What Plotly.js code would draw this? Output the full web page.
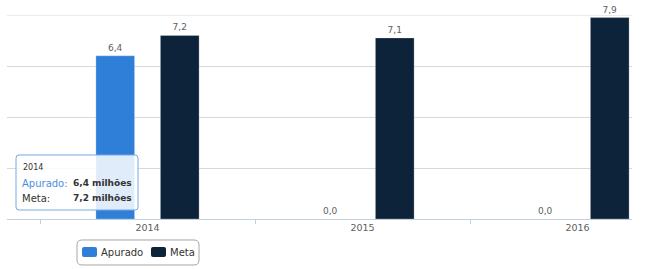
<!DOCTYPE html>
<html>
<head>
<meta charset="utf-8">
<script src="https://cdn.plot.ly/plotly-3.0.1.min.js"></script>
<style>
html,body{margin:0;padding:0;background:#fff;}
#chart{width:650px;height:269px;}
</style>
</head>
<body>
<div id="chart"></div>
<script>
// Data
const categories = ["2014", "2015", "2016"];
const apurado = [6.4, 0.0, 0.0];
const meta = [7.2, 7.1, 7.9];
const seriesNames = ["Apurado", "Meta"];
const seriesColors = ["#2f7ed8", "#0d233a"];
const unitLabel = "milhões";
const yMax = 8;

const fmt = v => v.toFixed(1).replace(".", ",");

// Plot geometry in pixels (for placing overlays: tooltip + legend box)
const L = 7, R = 18, T = 15, B = 50, W = 650, H = 269;
const pw = W - L - R, ph = H - T - B;
const px = x => (x - L) / pw;
const py = y => (H - B - y) / ph;

function roundRect(x0, y0, x1, y1, r) {
  const X = v => px(v).toFixed(5), Y = v => py(v).toFixed(5);
  return "M" + X(x0 + r) + "," + Y(y0) +
    " L" + X(x1 - r) + "," + Y(y0) +
    " Q" + X(x1) + "," + Y(y0) + " " + X(x1) + "," + Y(y0 + r) +
    " L" + X(x1) + "," + Y(y1 - r) +
    " Q" + X(x1) + "," + Y(y1) + " " + X(x1 - r) + "," + Y(y1) +
    " L" + X(x0 + r) + "," + Y(y1) +
    " Q" + X(x0) + "," + Y(y1) + " " + X(x0) + "," + Y(y1 - r) +
    " L" + X(x0) + "," + Y(y0 + r) +
    " Q" + X(x0) + "," + Y(y0) + " " + X(x0 + r) + "," + Y(y0) + " Z";
}

const traceBase = {
  type: "bar",
  texttemplate: "%{y:.1f}",
  textposition: "outside",
  textfont: {family: "DejaVu Sans", size: 9, color: "#606060"},
  cliponaxis: false,
  hoverinfo: "none"
};

const traces = [
  Object.assign({}, traceBase, {x: categories, y: apurado, name: seriesNames[0], marker: {color: seriesColors[0], line: {color: "rgba(255,255,255,0.5)", width: 0.5}}}),
  Object.assign({}, traceBase, {x: categories, y: meta, name: seriesNames[1], marker: {color: seriesColors[1], line: {color: "rgba(255,255,255,0.5)", width: 0.5}}})
];

// Legend (drawn as overlay to match the compact legend box)
const legendItems = [
  {sx: 82, tx: 101},
  {sx: 151, tx: 170}
];

const shapes = [
  // top gridline (Plotly drops gridlines at the very edge of the range)
  {type: "line", xref: "paper", yref: "y", x0: 0, x1: 1, y0: yMax, y1: yMax,
   line: {color: "#d8d8d8", width: 1}, layer: "below"},
  // tooltip box
  {type: "path", xref: "paper", yref: "paper", path: roundRect(16, 155, 138, 210, 3),
   fillcolor: "rgba(255,255,255,0.85)", line: {color: "#78a9e6", width: 1}, layer: "above"},
  // legend box
  {type: "path", xref: "paper", yref: "paper", path: roundRect(77, 240, 199, 265, 5),
   fillcolor: "#ffffff", line: {color: "#a6a6a6", width: 1}, layer: "above"}
];
legendItems.forEach((it, i) => {
  shapes.push({type: "path", xref: "paper", yref: "paper", path: roundRect(it.sx, 247, it.sx + 15, 257, 2),
    fillcolor: seriesColors[i], line: {width: 0}, layer: "above"});
});

const annotations = [
  {xref: "paper", yref: "paper", x: px(21), y: py(167), xanchor: "left", yanchor: "middle", showarrow: false,
   text: categories[0], font: {family: "DejaVu Sans", size: 8, color: "#333"}},
  {xref: "paper", yref: "paper", x: px(20), y: py(183), xanchor: "left", yanchor: "middle", showarrow: false,
   text: seriesNames[0] + ":", font: {family: "DejaVu Sans", size: 10, color: "#4a8ee0"}},
  {xref: "paper", yref: "paper", x: px(20), y: py(198), xanchor: "left", yanchor: "middle", showarrow: false,
   text: seriesNames[1] + ":", font: {family: "DejaVu Sans", size: 10, color: "#333"}},
  {xref: "paper", yref: "paper", x: px(134), y: py(183), xanchor: "right", yanchor: "middle", showarrow: false,
   text: "<b>" + fmt(apurado[0]) + " " + unitLabel + "</b>", font: {family: "DejaVu Sans", size: 9, color: "#333"}},
  {xref: "paper", yref: "paper", x: px(134), y: py(198), xanchor: "right", yanchor: "middle", showarrow: false,
   text: "<b>" + fmt(meta[0]) + " " + unitLabel + "</b>", font: {family: "DejaVu Sans", size: 9, color: "#333"}}
];
legendItems.forEach((it, i) => {
  annotations.push({xref: "paper", yref: "paper", x: px(it.tx - 2), y: py(252), xanchor: "left", yanchor: "middle",
    showarrow: false, text: seriesNames[i], font: {family: "DejaVu Sans", size: 10, color: "#333"}});
});

const layout = {
  width: W, height: H,
  margin: {l: L, r: R, t: T, b: B, pad: 0, autoexpand: false},
  paper_bgcolor: "#fff", plot_bgcolor: "#fff",
  separators: ",.",
  barmode: "group",
  bargap: 0.4,
  bargroupgap: 0.4,
  font: {family: "DejaVu Sans", color: "#606060"},
  showlegend: false,
  xaxis: {
    type: "category",
    range: [-0.6535, 2.2535],
    tickson: "boundaries",
    ticks: "outside", ticklen: 4, tickcolor: "#c0d0e0", tickwidth: 1,
    showgrid: false,
    showline: true, linecolor: "#c0d0e0", linewidth: 1,
    tickfont: {family: "DejaVu Sans", size: 9.5, color: "#606060"},
    zeroline: false,
    fixedrange: true
  },
  yaxis: {
    range: [0, yMax],
    dtick: 2,
    showticklabels: false,
    showgrid: true, gridcolor: "#d8d8d8", gridwidth: 1,
    zeroline: false,
    showline: false,
    fixedrange: true
  },
  shapes: shapes,
  annotations: annotations
};

Plotly.newPlot("chart", traces, layout, {displayModeBar: false, staticPlot: true});
</script>
</body>
</html>
